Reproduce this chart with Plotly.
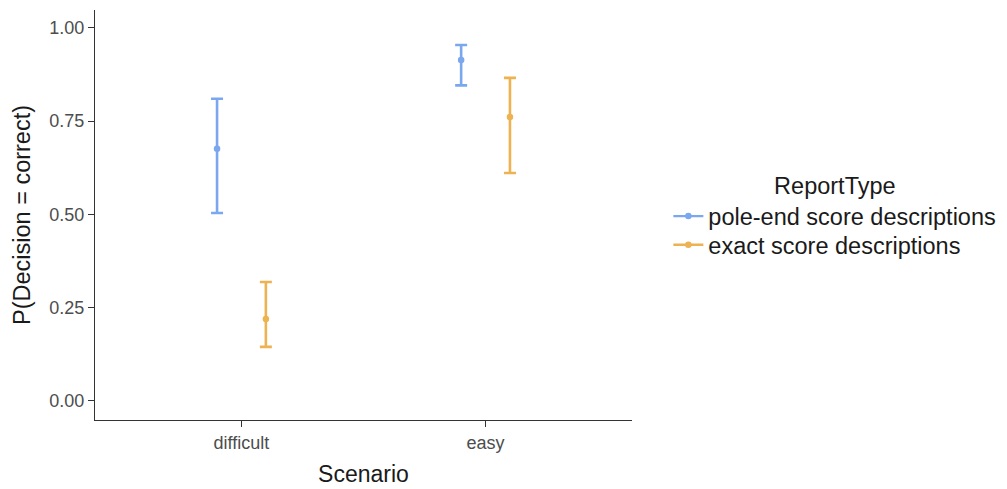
import plotly.graph_objects as go

scenarios = ["difficult", "easy"]
report_types = ["pole-end score descriptions", "exact score descriptions"]
colors = ["#7BA7EE", "#EDB251"]

est = {
    "pole-end score descriptions": [0.676, 0.914],
    "exact score descriptions": [0.220, 0.761],
}
lower = {
    "pole-end score descriptions": [0.504, 0.846],
    "exact score descriptions": [0.145, 0.611],
}
upper = {
    "pole-end score descriptions": [0.810, 0.954],
    "exact score descriptions": [0.319, 0.866],
}

dodge = [-0.1, 0.1]
legend_ids = ["legend", "legend2"]

fig = go.Figure()
for i, rt in enumerate(report_types):
    xs = [j + 1 + dodge[i] for j in range(len(scenarios))]
    ys = est[rt]
    fig.add_trace(go.Scatter(
        x=xs, y=ys, mode="markers",
        marker=dict(color=colors[i], size=6.5),
        error_y=dict(type="data", symmetric=False,
                     array=[u - y for u, y in zip(upper[rt], ys)],
                     arrayminus=[y - l for l, y in zip(lower[rt], ys)],
                     color=colors[i], thickness=2.6, width=6),
        showlegend=False,
    ))
for i, rt in enumerate(report_types):
    fig.add_trace(go.Scatter(
        x=[None], y=[None], mode="lines+markers", name=rt,
        line=dict(color=colors[i], width=2.4),
        marker=dict(color=colors[i], size=6.5),
        legend=legend_ids[i],
    ))

leg_x = 1.0677
fig.update_layout(
    width=1007, height=489,
    margin=dict(l=87, r=383, t=2, b=77),
    plot_bgcolor="white", paper_bgcolor="white",
    font=dict(family="Liberation Sans, Arial, sans-serif", color="#1a1a1a"),
    xaxis=dict(
        range=[0.4, 2.6], tickmode="array", tickvals=[1, 2], ticktext=scenarios,
        showgrid=False, zeroline=False, showline=True, linecolor="#333333", linewidth=1,
        ticks="outside", ticklen=6, tickcolor="#333333",
        tickfont=dict(size=18, color="#4d4d4d"),
        title=dict(text="Scenario", font=dict(size=23, color="#1a1a1a"), standoff=14),
    ),
    yaxis=dict(
        range=[-0.051, 1.048], tickmode="array", tickvals=[0, 0.25, 0.5, 0.75, 1.0],
        ticktext=["0.00", "0.25", "0.50", "0.75", "1.00"],
        showgrid=False, zeroline=False, showline=True, linecolor="#333333", linewidth=1,
        ticks="outside", ticklen=6, tickcolor="#333333",
        tickfont=dict(size=18, color="#4d4d4d"),
        title=dict(text="P(Decision = correct)", font=dict(size=23.5, color="#1a1a1a"), standoff=12),
    ),
    legend=dict(
        x=leg_x, y=0.625, xanchor="left", yanchor="top",
        title=dict(text="ReportType", side="top center", font=dict(size=23.5, color="#1a1a1a")),
        font=dict(size=23.5, color="#1a1a1a"),
        itemwidth=30, tracegroupgap=0, bgcolor="rgba(0,0,0,0)",
    ),
    legend2=dict(
        x=leg_x, y=0.4268, xanchor="left", yanchor="middle",
        font=dict(size=23.5, color="#1a1a1a"),
        itemwidth=30, tracegroupgap=0, bgcolor="rgba(0,0,0,0)",
    ),
)

fig.write_html("out.html")
